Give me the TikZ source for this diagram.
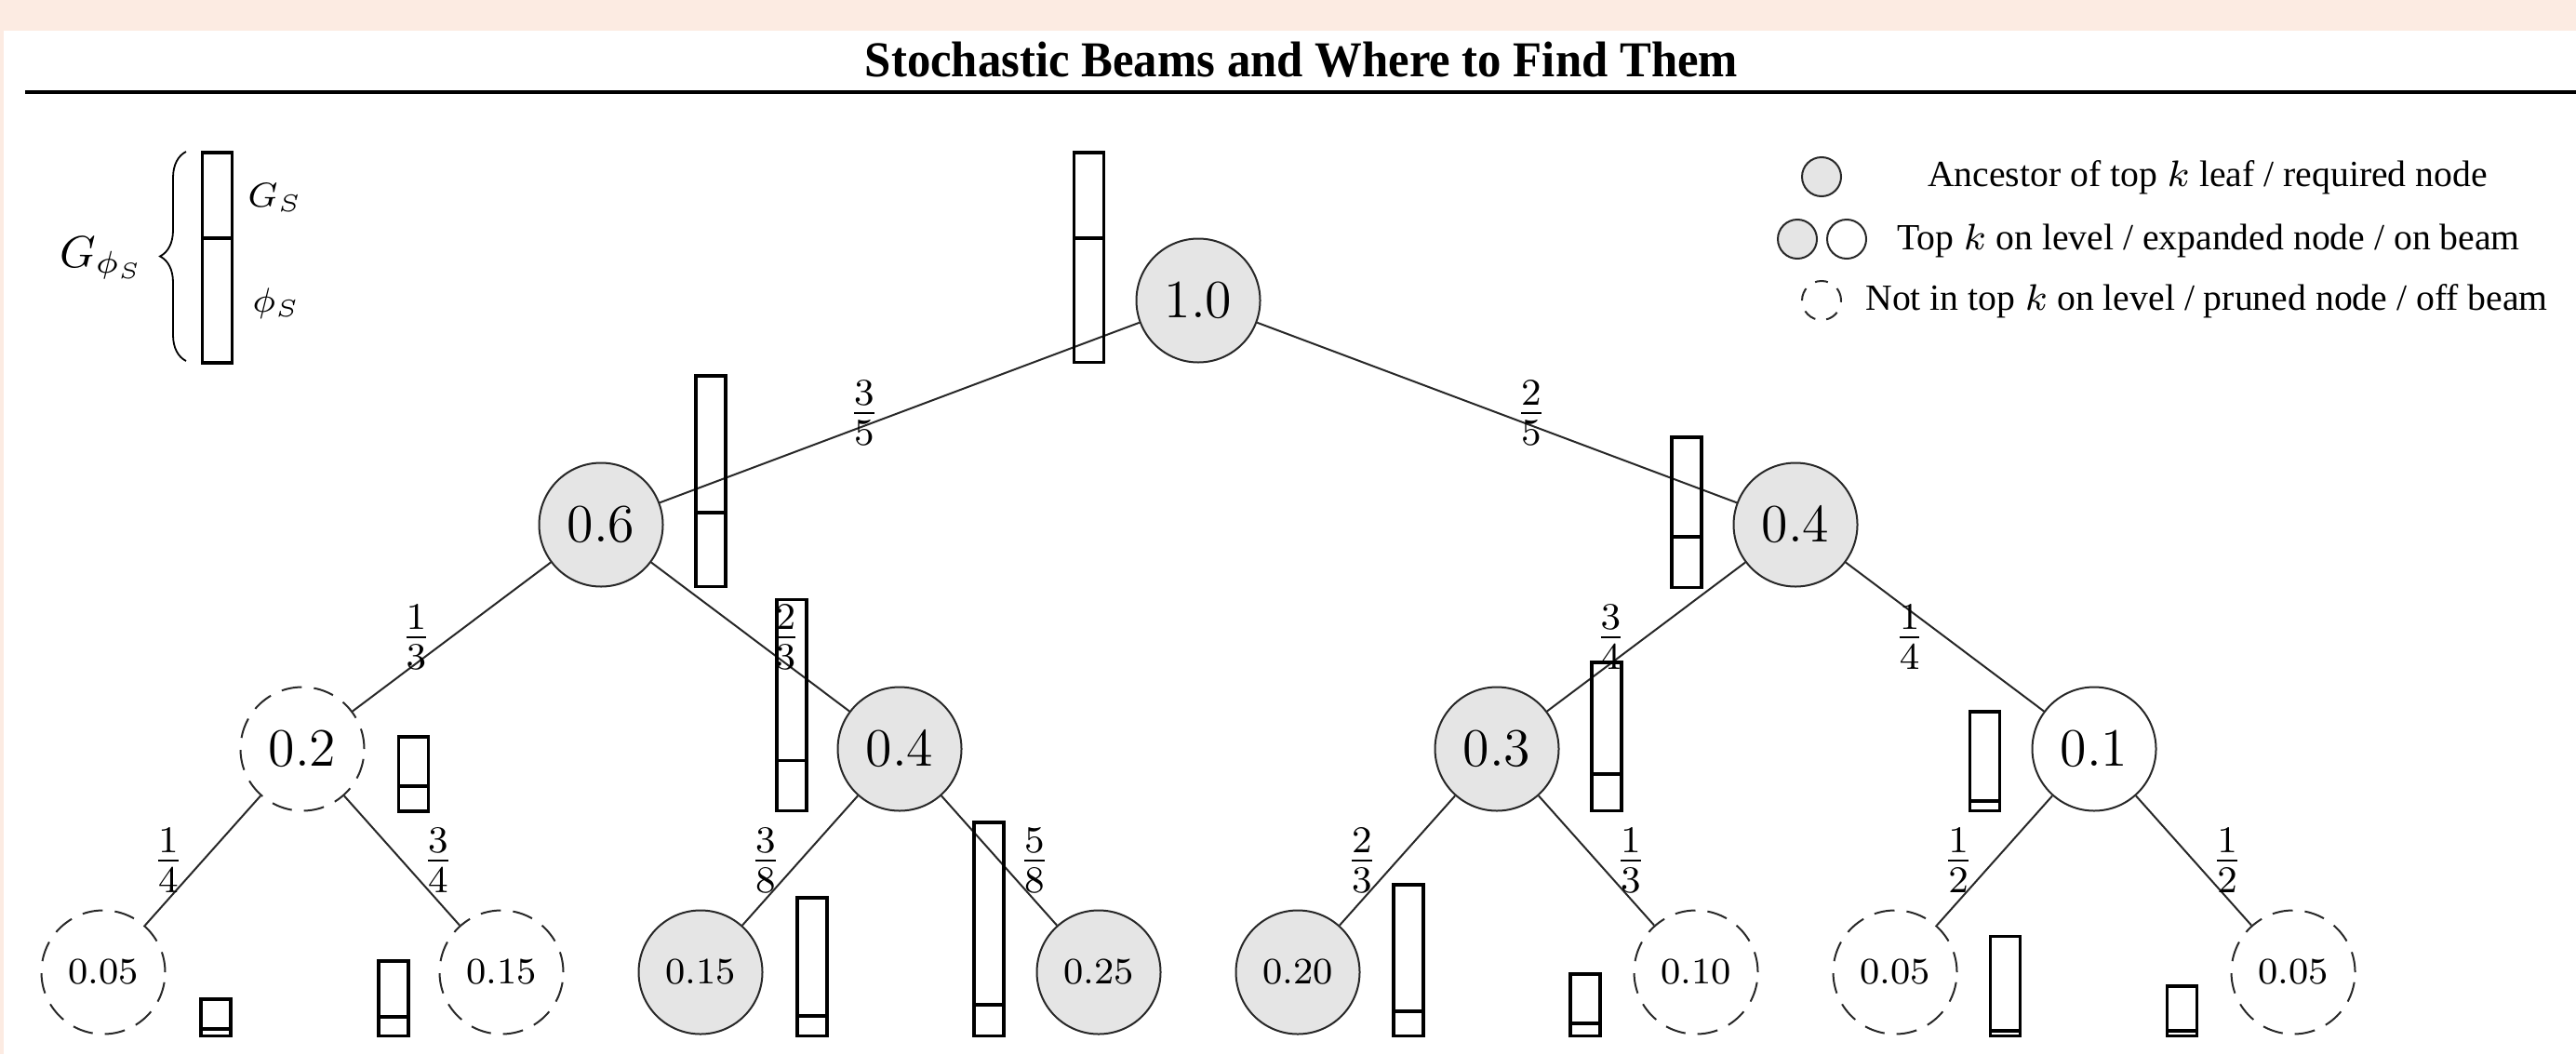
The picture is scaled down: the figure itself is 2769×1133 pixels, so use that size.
\RequirePackage{fix-cm}
\documentclass[tikz,border=0pt]{standalone}
\usepackage{fontspec}
\newfontfamily\timesf{Liberation Serif}
\usetikzlibrary{decorations.pathreplacing}
\definecolor{peach}{RGB}{252,235,226}
\definecolor{nodefill}{RGB}{229,229,229}
\definecolor{edgec}{RGB}{40,40,40}
\newcommand\gbar[4]{%
  \draw[barline] ({#1-16},{#2+1.75}) rectangle ({#1+16},{#4-1.75});
  \draw[barline] ({#1-16},#3) -- ({#1+16},#3);}
\begin{document}
\begin{tikzpicture}[x=0.2pt,y=-0.2pt,
  tnode/.style={circle, minimum size=26.6pt, inner sep=0pt, line width=0.4pt, draw=edgec, font=\fontsize{11.6}{12}\selectfont},
  req/.style={tnode, fill=nodefill},
  onbeam/.style={tnode, fill=white},
  offbeam/.style={tnode, dash pattern=on 4.4pt off 2.6pt},
  leaf/.style={font=\fontsize{8}{9}\selectfont},
  edge/.style={line width=0.4pt, draw=edgec},
  lab/.style={font=\fontsize{11.6}{12}\selectfont, inner sep=0pt},
  barline/.style={line width=0.7pt, draw=black},
  legc/.style={circle, minimum size=8.4pt, inner sep=0pt, line width=0.4pt, draw=edgec},
  legtext/.style={font=\timesf\fontsize{7.94}{9}\selectfont, anchor=base, inner sep=0pt}
]
\useasboundingbox (0,0) rectangle (2769,1133);
% frame
\fill[peach] (0,0) rectangle (2769,33);
\fill[peach] (0,0) rectangle (4,1133);
% title
\node[font=\timesf\bfseries\fontsize{10.8}{12}\selectfont, anchor=base, inner sep=0pt] (title) at (1399,82) {\scalebox{0.94}[1]{Stochastic Beams and Where to Find Them}};
\draw[line width=0.8pt] (27,99) -- (2769,99);

% legend (top left)
\gbar{233.5}{162}{256}{391.5}
\draw[decorate, decoration={brace, amplitude=5.6pt}, line width=0.36pt] (200,388) -- (200,163);
\node[anchor=base west, inner sep=0pt, font=\fontsize{7.4}{8}\selectfont] (gs) at (265,222) {$G_S$};
\node[anchor=west, inner sep=0pt, font=\fontsize{7.4}{8}\selectfont] (phis) at (270,326) {$\phi_S$};
\node[anchor=base west, inner sep=0pt, font=\fontsize{9.6}{10}\selectfont] (gphis) at (63,287) {$G_{\phi_S}$};

% legend (top right)
\node[legc, fill=nodefill] (l1) at (1958,190) {};
\node[legc, fill=nodefill] (l2a) at (1932,257) {};
\node[legc, fill=white] (l2b) at (1985,257) {};
\node[legc, dash pattern=on 2.8pt off 2.4pt] (l3) at (1958,323) {};
\node[legtext] (t1) at (2373,200) {Ancestor of top $k$ leaf / required node};
\node[legtext] (t2) at (2374,268) {Top $k$ on level / expanded node / on beam};
\node[legtext] (t3) at (2372,333) {Not in top $k$ on level / pruned node / off beam};

% tree nodes
\node[req] (r) at (1288,323) {1.0};
\node[req] (a) at (646,564) {0.6};
\node[req] (b) at (1930,564) {0.4};
\node[offbeam] (aa) at (325,805) {0.2};
\node[req] (ab) at (967,805) {0.4};
\node[req] (ba) at (1609,805) {0.3};
\node[onbeam] (bb) at (2251,805) {0.1};
\node[offbeam, leaf] (aaa) at (111,1045) {0.05};
\node[offbeam, leaf] (aab) at (539,1045) {0.15};
\node[req, leaf] (aba) at (753,1045) {0.15};
\node[req, leaf] (abb) at (1181,1045) {0.25};
\node[req, leaf] (baa) at (1395,1045) {0.20};
\node[offbeam, leaf] (bab) at (1823,1045) {0.10};
\node[offbeam, leaf] (bba) at (2037,1045) {0.05};
\node[offbeam, leaf] (bbb) at (2465,1045) {0.05};

% edges with labels
\draw[edge] (r) -- node[lab, xshift=-7.6pt] {$\frac{3}{5}$} (a);
\draw[edge] (r) -- node[lab, xshift=7.4pt] {$\frac{2}{5}$} (b);
\draw[edge] (a) -- node[lab, xshift=-7.6pt] {$\frac{1}{3}$} (aa);
\draw[edge] (a) -- node[lab, xshift=7.6pt] {$\frac{2}{3}$} (ab);
\draw[edge] (b) -- node[lab, xshift=-7.6pt] {$\frac{3}{4}$} (ba);
\draw[edge] (b) -- node[lab, xshift=-7.6pt] {$\frac{1}{4}$} (bb);
\draw[edge] (aa) -- node[lab, xshift=-7.4pt] {$\frac{1}{4}$} (aaa);
\draw[edge] (aa) -- node[lab, xshift=7.8pt] {$\frac{3}{4}$} (aab);
\draw[edge] (ab) -- node[lab, xshift=-7.4pt] {$\frac{3}{8}$} (aba);
\draw[edge] (ab) -- node[lab, xshift=7.6pt] {$\frac{5}{8}$} (abb);
\draw[edge] (ba) -- node[lab, xshift=-7.6pt] {$\frac{2}{3}$} (baa);
\draw[edge] (ba) -- node[lab, xshift=7.4pt] {$\frac{1}{3}$} (bab);
\draw[edge] (bb) -- node[lab, xshift=-7.8pt] {$\frac{1}{2}$} (bba);
\draw[edge] (bb) -- node[lab, xshift=7.2pt] {$\frac{1}{2}$} (bbb);

% beam bars
\gbar{1170.5}{162}{256}{391}
\gbar{764}{402}{551}{632}
\gbar{1813}{468}{577}{633}
\gbar{444.5}{790}{845}{873.5}
\gbar{851}{642.5}{817.5}{873}
\gbar{1727}{710}{832}{873}
\gbar{2133.5}{763}{861}{873}
\gbar{232}{1072}{1106}{1115}
\gbar{423}{1031}{1093}{1115}
\gbar{873}{963}{1092}{1115}
\gbar{1063}{882}{1080}{1115}
\gbar{1514}{949}{1087}{1115}
\gbar{1704}{1045}{1100}{1115}
\gbar{2155.5}{1004.5}{1108}{1115}
\gbar{2345.5}{1058}{1108}{1115}
\end{tikzpicture}
\end{document}
